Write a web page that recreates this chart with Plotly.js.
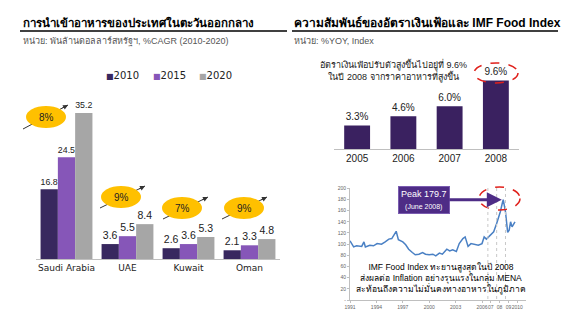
<!DOCTYPE html>
<html>
<head>
<meta charset="utf-8">
<script src="https://cdn.plot.ly/plotly-3.0.1.min.js"></script>
<style>html,body{margin:0;padding:0;background:#fff;}#chart{width:580px;height:315px;}</style>
</head>
<body>
<div id="chart"></div>
<script>
// ---------- DATA ----------
const countries = ['Saudi Arabia', 'UAE', 'Kuwait', 'Oman'];
const seriesYears = ['2010', '2015', '2020'];
const imports2010 = [16.8, 3.6, 2.6, 2.1];
const imports2015 = [24.5, 5.5, 3.6, 3.3];
const imports2020 = [35.2, 8.4, 5.3, 4.8];
const cagrLabels = ['8%', '9%', '7%', '9%'];

const inflationYears = ['2005', '2006', '2007', '2008'];
const inflationRates = [3.3, 4.6, 6.0, 9.6];

const foodDates = ['1991-01','1991-03','1991-06','1991-10','1992-05','1992-08','1992-10','1993-04','1993-09','1994-02',
  '1994-08','1995-01','1995-06','1995-10','1996-04','1996-07','1997-01','1997-05','1997-09','1998-02',
  '1998-06','1998-11','1999-04','1999-08','2000-01','2000-06','2000-10','2001-03','2001-07','2002-01',
  '2002-05','2002-09','2003-02','2003-06','2003-11','2004-02','2004-06','2004-10','2005-03','2005-08',
  '2006-01','2006-04','2006-07','2007-01','2007-05','2007-09','2008-02','2008-05','2008-06','2008-09',
  '2008-12','2009-02','2009-04','2009-06','2009-10'];
const foodIndex = [106,101,95,97,96,104,95,98,97,101,
  100,104,109,110,123,108,104,99,91,85,
  81,82,85,82,81,82,79,84,82,91,
  88,90,87,101,110,113,96,101,100,98,
  101,113,109,116,122,137,158,175,179.7,158,
  121,125,140,131,140];
const foodTickVals = ['1991-01-01','1994-01-01','1997-01-01','2000-01-01','2003-01-01','2006-01-01','2007-01-01','2008-01-01','2009-01-01','2010-01-01'];
const foodTickText = ['1991','1994','1997','2000','2003','2006','07','08','09','2010'];
const indexTickVals = [0,20,40,60,80,100,120,140,160,180,200];
const indexTickText = ['-','20','40','60','80','100','120','140','160','180','200'];

// ---------- HELPERS ----------
const W = 580, H = 315;
const X = px => px / W;
const Y = py => 1 - py / H;
const colors = ['#38285F', '#8656B8', '#A6A6A6'];
const FONT = 'Liberation Sans, Arial, sans-serif';
const VFONT = 'DejaVu Sans, Verdana, sans-serif';

const barSeries = [imports2010, imports2015, imports2020];
const traces = barSeries.map((vals, i) => ({
  type: 'bar', x: countries, y: vals, name: seriesYears[i],
  marker: {color: colors[i]},
  text: vals.map(v => v.toFixed(1)), textposition: 'outside',
  textfont: {family: FONT, size: 10.5, color: '#222'},
  cliponaxis: false, xaxis: 'x', yaxis: 'y', showlegend: false,
  hoverinfo: 'skip'
}));

traces.push({
  type: 'bar', x: inflationYears, y: inflationRates, width: 0.56,
  marker: {color: '#3A2160'},
  text: inflationRates.map(v => v.toFixed(1) + '%'), textposition: 'outside',
  textfont: {family: FONT, size: 10, color: '#222'},
  cliponaxis: false, xaxis: 'x2', yaxis: 'y2', showlegend: false, hoverinfo: 'skip'
});

traces.push({
  type: 'scatter', mode: 'lines', x: foodDates, y: foodIndex,
  line: {color: '#4A80C4', width: 1.5},
  xaxis: 'x3', yaxis: 'y3', showlegend: false, hoverinfo: 'skip'
});

// ---------- SHAPES ----------
const shapes = [];
shapes.push({type:'line', xref:'paper', yref:'paper', x0:X(20), x1:X(287), y0:Y(31), y1:Y(31), line:{color:'#000', width:1.5}});
shapes.push({type:'line', xref:'paper', yref:'paper', x0:X(292), x1:X(558), y0:Y(31), y1:Y(31), line:{color:'#000', width:1.5}});

const cagrGeom = [
  {cx:46, cy:117, t0:[23,129], t1:[68,105]},
  {cx:121, cy:197, t0:[100,208], t1:[145,186]},
  {cx:182, cy:208, t0:[163,219], t1:[208,197]},
  {cx:244, cy:208, t0:[222,219], t1:[267,197]}
];
cagrGeom.forEach(g => {
  shapes.push({type:'line', xref:'paper', yref:'paper', x0:X(g.t0[0]), y0:Y(g.t0[1]), x1:X(g.t1[0]), y1:Y(g.t1[1]), line:{color:'#333', width:1}});
});
cagrGeom.forEach(g => {
  shapes.push({type:'circle', xref:'paper', yref:'paper', x0:X(g.cx-20), x1:X(g.cx+20), y0:Y(g.cy-11), y1:Y(g.cy+11), fillcolor:'#FFC000', line:{width:0}});
});
shapes.push({type:'circle', xref:'paper', yref:'paper', x0:X(474), x1:X(518), y0:Y(63), y1:Y(83), line:{color:'#E0201B', width:1.5, dash:'dash'}});
shapes.push({type:'circle', xref:'paper', yref:'paper', x0:X(479), x1:X(520), y0:Y(187), y1:Y(210), line:{color:'#E0201B', width:1.5, dash:'dash'}});
['2006-09-01','2007-09-01','2008-09-01'].forEach(d => {
  shapes.push({type:'line', xref:'x3', yref:'paper', x0:d, x1:d, y0:Y(188), y1:Y(300), line:{color:'#C8C8C8', width:1, dash:'dot'}});
});

// ---------- ANNOTATIONS ----------
const ann = [];
ann.push({xref:'paper', yref:'paper', x:X(21), y:Y(23), xanchor:'left', yanchor:'middle', showarrow:false,
  text:'<b>การนำเข้าอาหารของประเทศในตะวันออกกลาง</b>', font:{family:FONT, size:11.5, color:'#000'}});
ann.push({xref:'paper', yref:'paper', x:X(21), y:Y(41), xanchor:'left', yanchor:'middle', showarrow:false,
  text:'หน่วย: พันล้านดอลลาร์สหรัฐฯ, %CAGR (2010-2020)', font:{family:FONT, size:9, color:'#555'}});
ann.push({xref:'paper', yref:'paper', x:X(292), y:Y(23), xanchor:'left', yanchor:'middle', showarrow:false,
  text:'<b>ความสัมพันธ์ของอัตราเงินเฟ้อและ IMF Food Index</b>', font:{family:FONT, size:12, color:'#000'}});
ann.push({xref:'paper', yref:'paper', x:X(292), y:Y(41), xanchor:'left', yanchor:'middle', showarrow:false,
  text:'หน่วย: %YOY, Index', font:{family:FONT, size:9, color:'#555'}});

const legX = [104, 151, 197];
seriesYears.forEach((yr, i) => {
  ann.push({xref:'paper', yref:'paper', x:X(legX[i]), y:Y(75), xanchor:'left', yanchor:'middle', showarrow:false,
    text:'<span style="color:' + colors[i] + ';font-size:8px">■</span>' + yr, font:{family:VFONT, size:10, color:'#222'}});
});

cagrGeom.forEach((g, i) => {
  ann.push({xref:'paper', yref:'paper', x:X(g.cx), y:Y(g.cy), xanchor:'center', yanchor:'middle', showarrow:false,
    text:cagrLabels[i], font:{family:FONT, size:10, color:'#222'}});
  const dx = g.t1[0]-g.t0[0], dy = g.t1[1]-g.t0[1], L = Math.hypot(dx, dy);
  ann.push({xref:'paper', yref:'paper', x:X(g.t1[0]), y:Y(g.t1[1]), ax:-dx/L*8, ay:-dy/L*8, text:'', showarrow:true,
    arrowhead:2, arrowsize:1, arrowwidth:1, arrowcolor:'#333'});
});

ann.push({xref:'paper', yref:'paper', x:X(393), y:Y(71), xanchor:'center', yanchor:'middle', showarrow:false,
  text:'อัตราเงินเฟ้อปรับตัวสูงขึ้นไปอยู่ที่ 9.6%<br>ในปี 2008 จากราคาอาหารที่สูงขึ้น', font:{family:FONT, size:9, color:'#222'}});

ann.push({xref:'x3', yref:'y3', x:'2008-04-01', y:179.7, ax:-78, ay:0, showarrow:true, arrowhead:2, arrowsize:1, arrowwidth:3,
  arrowcolor:'#4E2C86', text:'Peak 179.7<br><span style="font-size:7px">(June 2008)</span>', bgcolor:'#4E2C86',
  bordercolor:'#7A5CB0', borderwidth:1, borderpad:2, font:{family:FONT, size:9, color:'#fff'}});

ann.push({xref:'paper', yref:'paper', x:X(441), y:Y(278), xanchor:'center', yanchor:'middle', showarrow:false,
  text:'IMF Food Index ทะยานสูงสุดในปี 2008<br>ส่งผลต่อ Inflation อย่างรุนแรงในกลุ่ม MENA<br>สะท้อนถึงความไม่มั่นคงทางอาหารในภูมิภาค',
  font:{family:FONT, size:8.5, color:'#000'}});

// ---------- LAYOUT ----------
const layout = {
  width: W, height: H, margin: {l:0, r:0, t:0, b:0},
  paper_bgcolor: '#fff', plot_bgcolor: 'rgba(0,0,0,0)',
  showlegend: false, barmode: 'group', bargap: 0.15, bargroupgap: 0,
  font: {family: FONT},
  xaxis: {domain:[X(36), X(280)], anchor:'y', showline:true, linecolor:'#BFBFBF', linewidth:1, ticks:'',
    tickfont:{family:VFONT, size:9, color:'#222'}, fixedrange:true},
  yaxis: {domain:[Y(259), Y(93)], anchor:'x', range:[0, 40], visible:false, fixedrange:true},
  xaxis2: {domain:[X(334), X(519)], anchor:'y2', showline:true, linecolor:'#BFBFBF', linewidth:1, ticks:'',
    tickfont:{family:FONT, size:10, color:'#222'}, fixedrange:true},
  yaxis2: {domain:[Y(149), Y(70.4)], anchor:'x2', range:[0, 11], visible:false, fixedrange:true},
  xaxis3: {domain:[X(350), X(526)], anchor:'y3', type:'date', range:['1991-01-01','2011-01-01'],
    tickvals: foodTickVals, ticktext: foodTickText, tickangle:0, showline:true, linecolor:'#BFBFBF', ticks:'outside', ticklen:2,
    tickcolor:'#BFBFBF', tickfont:{family:FONT, size:5, color:'#666'}, showgrid:false, zeroline:false, fixedrange:true},
  yaxis3: {domain:[Y(300), Y(188.3)], anchor:'x3', range:[0, 200], tickvals: indexTickVals, ticktext: indexTickText,
    showline:true, linecolor:'#BFBFBF', ticks:'outside', ticklen:2, tickcolor:'#BFBFBF',
    tickfont:{family:FONT, size:5, color:'#666'}, showgrid:false, zeroline:false, fixedrange:true},
  shapes: shapes,
  annotations: ann
};

Plotly.newPlot('chart', traces, layout, {staticPlot:true, displayModeBar:false});
</script>
</body>
</html>
